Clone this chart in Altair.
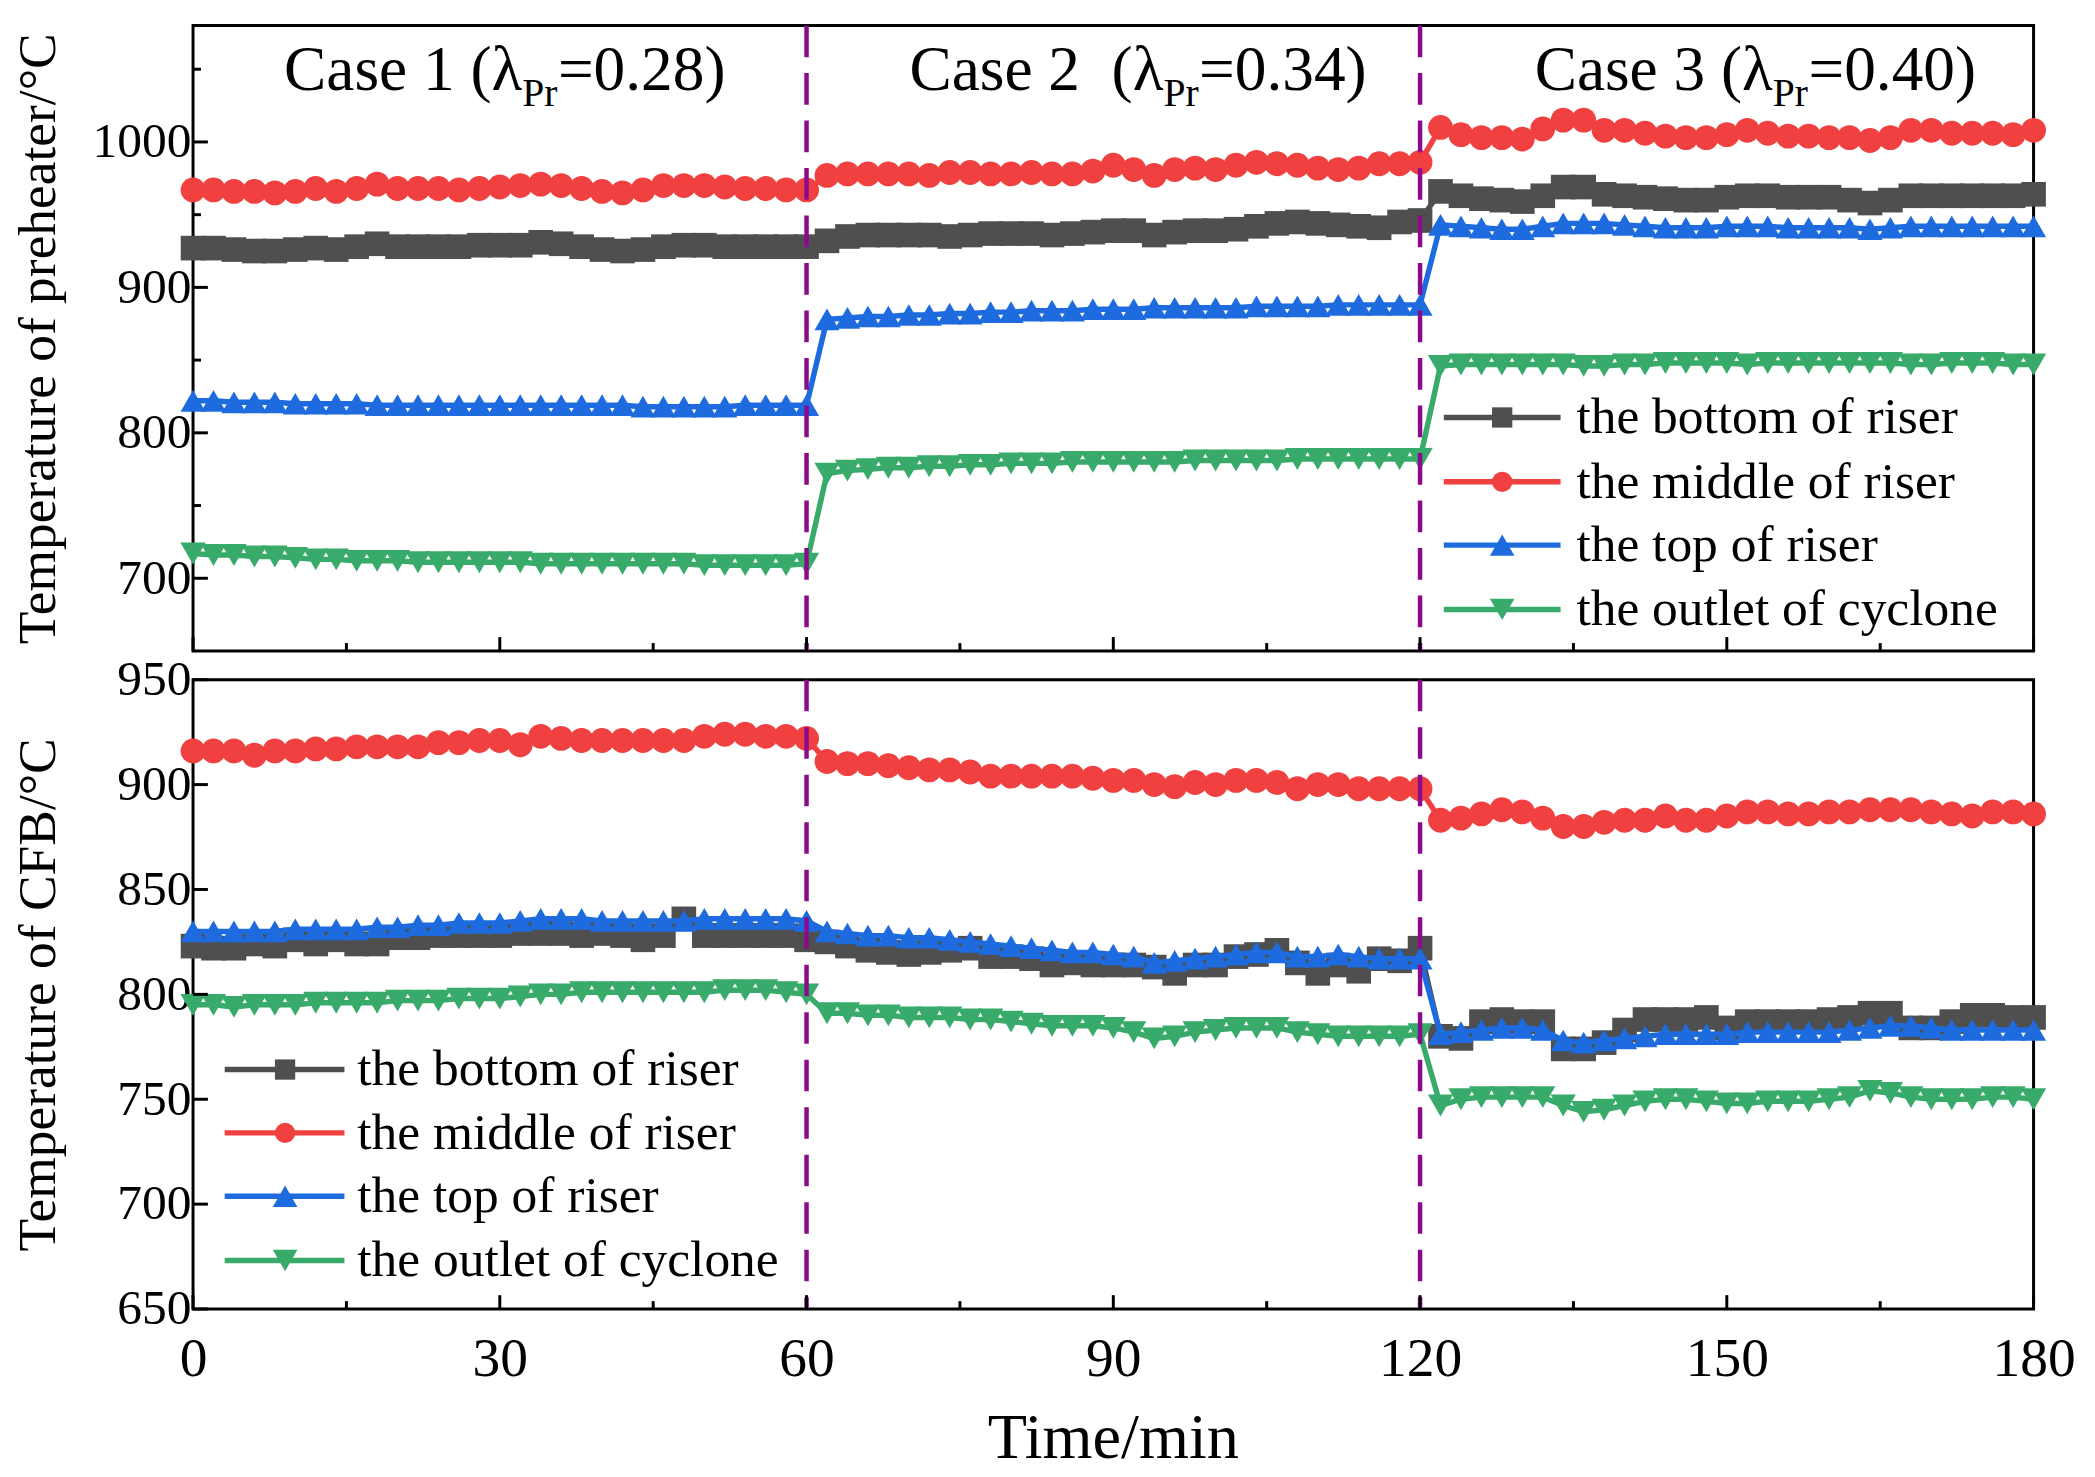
import altair as alt
import pandas as pd

FONT = "Liberation Serif"

times = list(range(0, 181, 2))

series_names = ["the bottom of riser", "the middle of riser", "the top of riser", "the outlet of cyclone"]
series_colors = ["#4F4F4F", "#F04040", "#1E6BDF", "#38AA6A"]
series_shapes = ["square", "circle", "triangle-up", "triangle-down"]
series_sizes = [620, 650, 1100, 1100]
legend_sizes = [420, 420, 620, 620]

# preheater temperatures (upper panel)
pre_bottom = [927, 927, 926, 925, 925, 926, 927, 926, 928, 930, 928, 928, 928, 928, 929, 929, 929, 931, 930, 928, 926, 925, 926, 928, 929, 929, 928, 928, 928, 928, 928,
              932, 935, 936, 936, 936, 936, 935, 936, 937, 937, 937, 936, 937, 938, 939, 939, 936, 938, 939, 939, 940, 942, 944, 945, 944, 943, 942, 941, 945, 946,
              966, 963, 961, 960, 959, 963, 969, 969, 964, 963, 962, 961, 960, 960, 962, 963, 963, 962, 962, 962, 960, 958, 960, 963, 963, 963, 963, 963, 963, 964]
pre_middle = [967, 967, 966, 966, 965, 966, 968, 966, 968, 971, 968, 968, 968, 967, 968, 969, 970, 971, 970, 968, 966, 965, 967, 970, 970, 970, 969, 968, 968, 967, 967,
              977, 978, 978, 978, 978, 977, 979, 979, 978, 978, 979, 978, 978, 980, 984, 981, 977, 981, 982, 981, 984, 986, 985, 984, 982, 981, 982, 985, 985, 986,
              1010, 1005, 1003, 1003, 1002, 1009, 1015, 1015, 1008, 1008, 1006, 1004, 1003, 1003, 1005, 1008, 1006, 1004, 1004, 1003, 1003, 1001, 1003, 1008, 1008, 1006, 1006, 1006, 1005, 1008]
pre_top = [822, 822, 821, 821, 821, 820, 820, 820, 820, 819, 819, 819, 819, 819, 819, 819, 819, 819, 819, 819, 819, 819, 818, 818, 818, 818, 818, 819, 819, 819, 819,
           878, 879, 880, 880, 881, 881, 882, 882, 883, 883, 884, 884, 884, 885, 885, 885, 886, 886, 886, 886, 886, 887, 887, 887, 887, 888, 888, 888, 888, 888,
           943, 942, 941, 940, 940, 942, 944, 944, 944, 943, 942, 941, 941, 941, 942, 942, 942, 941, 941, 941, 941, 940, 941, 942, 942, 942, 942, 942, 942, 942]
pre_outlet = [717, 716, 716, 715, 715, 714, 713, 713, 712, 712, 712, 711, 711, 711, 711, 711, 711, 710, 710, 710, 710, 710, 710, 710, 710, 709, 709, 709, 709, 709, 710,
              772, 774, 775, 776, 776, 777, 777, 778, 778, 779, 779, 779, 780, 780, 780, 780, 780, 780, 781, 781, 781, 781, 781, 782, 782, 782, 782, 782, 782, 782,
              846, 847, 847, 847, 847, 847, 847, 846, 846, 847, 847, 848, 848, 848, 848, 847, 848, 848, 848, 848, 848, 848, 848, 847, 847, 848, 848, 848, 847, 847]

# CFB temperatures (lower panel)
cfb_bottom = [823, 822, 822, 824, 823, 826, 824, 826, 824, 824, 827, 827, 828, 828, 828, 828, 829, 829, 829, 828, 829, 828, 826, 828, 836, 828, 828, 828, 828, 828, 826,
              825, 823, 821, 820, 819, 820, 821, 822, 818, 818, 817, 814, 815, 814, 814, 814, 813, 810, 814, 814, 818, 819, 821, 815, 810, 814, 811, 817, 816, 822,
              780, 779, 787, 788, 787, 787, 774, 774, 777, 783, 788, 788, 788, 789, 784, 787, 787, 787, 787, 788, 789, 791, 791, 784, 784, 787, 790, 790, 789, 789]
cfb_middle = [916, 916, 916, 914, 916, 916, 917, 917, 918, 918, 918, 918, 920, 920, 921, 921, 919, 923, 922, 921, 921, 921, 921, 921, 921, 923, 924, 924, 923, 923, 922,
              911, 910, 910, 909, 908, 907, 907, 906, 904, 904, 904, 904, 904, 903, 902, 902, 900, 899, 901, 900, 902, 902, 901, 898, 900, 900, 898, 898, 898, 898,
              883, 884, 886, 888, 887, 884, 880, 880, 882, 883, 883, 885, 883, 883, 885, 887, 887, 886, 886, 887, 887, 888, 888, 888, 887, 886, 885, 887, 887, 886]
cfb_top = [830, 830, 830, 830, 830, 831, 831, 831, 831, 832, 832, 833, 833, 834, 834, 834, 835, 836, 836, 836, 835, 835, 835, 835, 835, 836, 836, 836, 836, 836, 835,
           830, 829, 828, 828, 827, 827, 826, 825, 824, 823, 822, 821, 820, 820, 819, 818, 815, 816, 817, 818, 819, 820, 820, 818, 818, 819, 818, 817, 817, 817,
           781, 782, 783, 784, 784, 783, 778, 777, 778, 779, 780, 781, 781, 781, 781, 782, 782, 782, 782, 782, 783, 784, 785, 785, 784, 783, 783, 783, 783, 783]
cfb_outlet = [795, 795, 794, 795, 795, 795, 796, 796, 796, 796, 797, 797, 797, 798, 798, 798, 799, 800, 800, 801, 801, 801, 801, 801, 801, 801, 802, 802, 802, 801, 800,
              791, 791, 790, 790, 789, 789, 789, 788, 788, 787, 786, 785, 785, 785, 784, 782, 779, 780, 782, 783, 784, 784, 784, 782, 781, 780, 780, 780, 780, 781,
              747, 750, 751, 751, 751, 751, 747, 744, 745, 747, 749, 750, 750, 749, 748, 748, 749, 749, 749, 750, 751, 754, 753, 751, 750, 750, 750, 751, 751, 750]

switch_times = [60, 120]
case_prefix = ["Case 1 (λ", "Case 2 \u00a0(λ", "Case 3 (λ"]
case_sub = ["Pr", "Pr", "Pr"]
case_value = ["=0.28)", "=0.34)", "=0.40)"]
case_anchor = [32.2, 94.9, 154.5]
x_title = "Time/min"
x_title_at = 90

x_major = [0, 30, 60, 90, 120, 150, 180]
x_minor = [15, 45, 75, 105, 135, 165]
pre_major = [700, 800, 900, 1000]
pre_minor = [750, 850, 950, 1050]
cfb_major = [650, 700, 750, 800, 850, 900, 950]

for s in [pre_bottom, pre_middle, pre_top, pre_outlet, cfb_bottom, cfb_middle, cfb_top, cfb_outlet]:
    assert len(s) == len(times), len(s)


def long_df(cols):
    frames = []
    for name, vals in zip(series_names, cols):
        frames.append(pd.DataFrame({"time": times, "temp": vals, "series": name}))
    return pd.concat(frames, ignore_index=True)


df_pre = long_df([pre_bottom, pre_middle, pre_top, pre_outlet])
df_cfb = long_df([cfb_bottom, cfb_middle, cfb_top, cfb_outlet])

W = 1860
XS = alt.Scale(domain=[0, 180], nice=False, zero=False)
COLOR = alt.Color("series:N", scale=alt.Scale(domain=series_names, range=series_colors), legend=None)
SHAPE = alt.Shape("series:N", scale=alt.Scale(domain=series_names, range=series_shapes), legend=None)
SIZE = alt.Size("series:N", scale=alt.Scale(domain=series_names, range=series_sizes), legend=None)


def panel(df, ydom, ymaj, ymin, ytitle, H, show_x, leg, cases):
    ys = alt.Scale(domain=ydom, nice=False, zero=False)
    yaxis = alt.Axis(values=ymaj, format="d", ticks=False, tickSize=0, domain=False, grid=False,
                     labelFont=FONT, labelFontSize=50, labelPadding=2, labelFlush=False,
                     labelColor="black", title=ytitle, titleFont=FONT, titleFontSize=54,
                     titleFontWeight="normal", titleColor="black", titleAngle=270,
                     titleBaseline="alphabetic", titleX=-140)
    if show_x:
        xaxis = alt.Axis(values=x_major, format="d", ticks=False, tickSize=0, domain=False, grid=False,
                         labelFont=FONT, labelFontSize=56, labelPadding=23, labelFlush=False,
                         labelColor="black", title=None)
    else:
        xaxis = None

    def X(field):
        return alt.X(field, scale=XS, axis=xaxis)

    def Y(field):
        return alt.Y(field, scale=ys, axis=yaxis)

    layers = []
    for name in series_names:
        base = alt.Chart(df).transform_filter(alt.datum.series == name)
        layers.append(base.mark_line(strokeWidth=5.5).encode(
            x=X("time:Q"), y=Y("temp:Q"), color=COLOR))
        layers.append(base.mark_point(filled=True, opacity=1).encode(
            x=X("time:Q"), y=Y("temp:Q"), color=COLOR, shape=SHAPE, size=SIZE))

    # dashed separators
    layers.append(alt.Chart(pd.DataFrame({"t": switch_times})).mark_rule(
        color="#8B0A8B", strokeWidth=4.5, strokeDash=[32, 16]).encode(x=X("t:Q")))

    # inward ticks
    layers.append(alt.Chart(pd.DataFrame({"v": ymaj})).mark_rule(color="black", strokeWidth=3).encode(
        y=Y("v:Q"), x=alt.value(0), x2=alt.value(15)))
    if ymin:
        layers.append(alt.Chart(pd.DataFrame({"v": ymin})).mark_rule(color="black", strokeWidth=3).encode(
            y=Y("v:Q"), x=alt.value(0), x2=alt.value(8)))
    layers.append(alt.Chart(pd.DataFrame({"v": x_major})).mark_rule(color="black", strokeWidth=3).encode(
        x=X("v:Q"), y=alt.value(H), y2=alt.value(H - 14)))
    layers.append(alt.Chart(pd.DataFrame({"v": x_minor})).mark_rule(color="black", strokeWidth=3).encode(
        x=X("v:Q"), y=alt.value(H), y2=alt.value(H - 8)))

    # legend
    lx0, lx1, mx, tx, rows = leg
    for name, color, shape, sz, yy in zip(series_names, series_colors, series_shapes, legend_sizes, rows):
        b = alt.Chart(pd.DataFrame({"label": [name]}))
        layers.append(b.mark_rule(color=color, strokeWidth=5.5).encode(
            x=alt.value(lx0), x2=alt.value(lx1), y=alt.value(yy)))
        layers.append(b.mark_point(shape=shape, filled=True, color=color, size=sz, opacity=1).encode(
            x=alt.value(mx), y=alt.value(yy)))
        layers.append(b.mark_text(align="left", baseline="middle", font=FONT, fontSize=52, color="black").encode(
            x=alt.value(tx), y=alt.value(yy), text="label:N"))

    if cases:
        cdf = pd.DataFrame({"anchor": case_anchor, "pre": case_prefix, "sub": case_sub, "val": case_value})
        cb = alt.Chart(cdf)
        layers.append(cb.mark_text(align="right", baseline="alphabetic", font=FONT, fontSize=64, color="black").encode(
            x=X("anchor:Q"), y=alt.value(65), text="pre:N"))
        layers.append(cb.mark_text(align="left", baseline="alphabetic", font=FONT, fontSize=40, color="black").encode(
            x=X("anchor:Q"), y=alt.value(81), text="sub:N"))
        layers.append(cb.mark_text(align="left", baseline="alphabetic", font=FONT, fontSize=64, color="black", dx=36).encode(
            x=X("anchor:Q"), y=alt.value(65), text="val:N"))

    if show_x:
        tdf = pd.DataFrame({"at": [x_title_at], "label": [x_title]})
        layers.append(alt.Chart(tdf).mark_text(align="center", baseline="alphabetic", font=FONT,
                                               fontSize=65, color="black").encode(
            x=X("at:Q"), y=alt.value(H + 151), text="label:N"))

    return alt.layer(*layers).properties(width=W, height=H)


top = panel(df_pre, [650, 1080], pre_major, pre_minor, "Temperature of preheater/°C", 632, False,
            (1264, 1382, 1323, 1398, [396, 461, 525, 590]), True)
bottom = panel(df_cfb, [650, 950], cfb_major, [], "Temperature of CFB/°C", 636, True,
               (32, 153, 93, 166, [394, 458, 522, 587]), False)

chart = alt.vconcat(top, bottom, spacing=29, bounds="flush").properties(
    padding={"left": 2, "top": 6, "right": 10, "bottom": 0},
    background="white"
).configure_view(stroke="black", strokeWidth=3)

chart.save("out.html", embed_options={"renderer": "svg", "actions": False})
